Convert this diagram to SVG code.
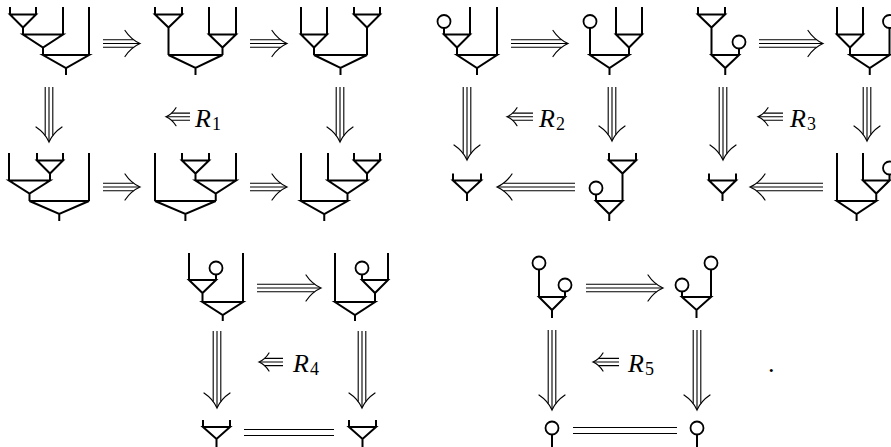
<svg xmlns="http://www.w3.org/2000/svg" width="891" height="447" viewBox="0 0 891 447">
<style>
.w{fill:none;stroke:#000;stroke-width:2;stroke-linejoin:miter;stroke-linecap:butt}
.c{fill:#fff;stroke:#000;stroke-width:1.8}
.a{fill:none;stroke:#000;stroke-width:1.1}
.h{fill:none;stroke:#000;stroke-width:1.2;stroke-linecap:round}
.t{font-family:"Liberation Serif","DejaVu Serif",serif;font-style:italic;font-size:26px;fill:#000}
.s{font-style:normal;font-size:18px}
.p{font-family:"Liberation Serif","DejaVu Serif",serif;font-size:26px;fill:#000}
</style>
<defs>
<path id="hd" class="h" d="M-15,-13 Q-9,-4 0,0 Q-9,4 -15,13"/>
<path id="sh" class="h" d="M-10,-9 Q-6,-2.5 0,0 Q-6,2.5 -10,9"/>
</defs>
<rect width="891" height="447" fill="#fff"/>

<!-- R1 square -->
<g id="n1a"><path class="w" d="M10,7V14.5M36,7V14.5M10,14.5H36L23,27.5ZM23,27.5V34.5M63,7V34.5M23,34.5H63L43,47.5ZM43,47.5V55M89,7V55M43,55H89L66,68ZM66,68V75"/></g>
<g id="n1b"><path class="w" d="M155,7V14.5M182,7V14.5M155,14.5H182L168.5,27.5ZM168.5,27.5V55M209,7V34.5M236,7V34.5M209,34.5H236L222.5,47.5ZM222.5,47.5V55M168.5,55H222.5L195.5,68ZM195.5,68V75"/></g>
<g id="n1c"><path class="w" d="M301,7V34.5M327,7V34.5M301,34.5H327L314,47.5ZM314,47.5V55M354,7V14.5M380,7V14.5M354,14.5H380L367,27.5ZM367,27.5V55M314,55H367L340.5,68ZM340.5,68V75"/></g>
<g id="n1d"><path class="w" d="M9,153V180.5M37,153V160.5M63,153V160.5M37,160.5H63L50,173.5ZM50,173.5V180.5M9,180.5H50L29.5,193.5ZM29.5,193.5V201M89,153V201M29.5,201H89L59.25,214ZM59.25,214V221"/></g>
<g id="n1e"><path class="w" d="M155,153V201M182,153V160.5M209,153V160.5M182,160.5H209L195.5,173.5ZM195.5,173.5V180.5M236,153V180.5M195.5,180.5H236L215.75,193.5ZM215.75,193.5V201M155,201H215.75L185.4,214ZM185.4,214V221"/></g>
<g id="n1f"><path class="w" d="M301,153V201M328,153V180.5M354,153V160.5M380,153V160.5M354,160.5H380L367,173.5ZM367,173.5V180.5M328,180.5H367L347.5,193.5ZM347.5,193.5V201M301,201H347.5L324.25,214ZM324.25,214V221"/></g>

<!-- R2 square -->
<g id="n2a"><path class="w" d="M444,28V34.5M470,7V34.5M444,34.5H470L457,47.5ZM457,47.5V55M497,7V55M457,55H497L477,68ZM477,68V75"/><circle class="c" cx="444" cy="21.5" r="6.5"/></g>
<g id="n2b"><path class="w" d="M590,28V55M616,7V34.5M642,7V34.5M616,34.5H642L629,47.5ZM629,47.5V55M590,55H629L609.5,68ZM609.5,68V75"/><circle class="c" cx="590" cy="21.5" r="6.5"/></g>
<g id="n2c"><path class="w" d="M453,173.5V180.5M481,173.5V180.5M453,180.5H481L467,193.5ZM467,193.5V201"/></g>
<g id="n2d"><path class="w" d="M609,153V160.5M636,153V160.5M609,160.5H636L622.5,173.5ZM622.5,173.5V201M596,194.5V201M596,201H622.5L609.25,214ZM609.25,214V221"/><circle class="c" cx="596" cy="188" r="6.5"/></g>

<!-- R3 square -->
<g id="n3a"><path class="w" d="M698,7V14.5M725,7V14.5M698,14.5H725L711.5,27.5ZM711.5,27.5V55M739,48.5V55M711.5,55H739L725.25,68ZM725.25,68V75"/><circle class="c" cx="739" cy="42" r="6.5"/></g>
<g id="n3b"><path class="w" d="M837,7V34.5M863,7V34.5M837,34.5H863L850,47.5ZM850,47.5V55M889.5,28V55M850,55H889.5L869.75,68ZM869.75,68V75"/><circle class="c" cx="889.5" cy="21.5" r="6.5"/></g>
<g id="n3c"><path class="w" d="M709,173.5V180.5M736,173.5V180.5M709,180.5H736L722.5,193.5ZM722.5,193.5V201"/></g>
<g id="n3d"><path class="w" d="M837,153V201M863,153V180.5M889.5,174.5V180.5M863,180.5H889.5L876.25,193.5ZM876.25,193.5V201M837,201H876.25L856.6,214ZM856.6,214V221"/><circle class="c" cx="889.5" cy="168" r="6.5"/></g>

<!-- R4 square -->
<g id="n4a"><path class="w" d="M189,253V280M216,274.5V280M189,280H216L202.5,293ZM202.5,293V302M243,253V302M202.5,302H243L222.75,315ZM222.75,315V321"/><circle class="c" cx="216" cy="268" r="6.5"/></g>
<g id="n4b"><path class="w" d="M335,253V302M362,274.5V280M388,253V280M362,280H388L375,293ZM375,293V302M335,302H375L355,315ZM355,315V321"/><circle class="c" cx="362" cy="268" r="6.5"/></g>
<g id="n4c"><path class="w" d="M203,420V427M230,420V427M203,427H230L216.5,439ZM216.5,439V448"/></g>
<g id="n4d"><path class="w" d="M349,420V427M376,420V427M349,427H376L362.5,439ZM362.5,439V448"/></g>

<!-- R5 square -->
<g id="n5a"><path class="w" d="M539,269.5V297M565,291.5V297M539,297H565L552,310ZM552,310V318"/><circle class="c" cx="539" cy="263" r="6.5"/><circle class="c" cx="565" cy="285" r="6.5"/></g>
<g id="n5b"><path class="w" d="M682,291.5V297M711,269.5V297M682,297H711L696.5,310ZM696.5,310V318"/><circle class="c" cx="682" cy="285" r="6.5"/><circle class="c" cx="711" cy="263" r="6.5"/></g>
<g id="n5c"><path class="w" d="M552,434.5V448"/><circle class="c" cx="552" cy="428" r="6.5"/></g>
<g id="n5d"><path class="w" d="M697,434.5V448"/><circle class="c" cx="697" cy="428" r="6.5"/></g>

<g id="connectors">
<!-- R1 -->
<path class="a" d="M103,39.7H133.5M103,43.5H139M103,47.3H133.5"/><use href="#hd" transform="translate(140,43.5)"/>
<path class="a" d="M250,39.7H280.5M250,43.5H286M250,47.3H280.5"/><use href="#hd" transform="translate(287,43.5)"/>
<path class="a" d="M103,183.2H133.5M103,187H139M103,190.8H133.5"/><use href="#hd" transform="translate(140,187)"/>
<path class="a" d="M250,183.2H280.5M250,187H286M250,190.8H280.5"/><use href="#hd" transform="translate(287,187)"/>
<path class="a" d="M45.2,87V135.5M49,87V141M52.8,87V135.5"/><use href="#hd" transform="translate(49,142) rotate(90)"/>
<path class="a" d="M336.2,87V135.5M340,87V141M343.8,87V135.5"/><use href="#hd" transform="translate(340,142) rotate(90)"/>
<!-- R2 -->
<path class="a" d="M511,39.7H561.5M511,43.5H567M511,47.3H561.5"/><use href="#hd" transform="translate(568,43.5)"/>
<path class="a" d="M575,183.2H503.5M575,187H498M575,190.8H503.5"/><use href="#hd" transform="translate(497,187) rotate(180)"/>
<path class="a" d="M463.2,87V153.5M467,87V159M470.8,87V153.5"/><use href="#hd" transform="translate(467,160) rotate(90)"/>
<path class="a" d="M608.2,87V134.5M612,87V140M615.8,87V134.5"/><use href="#hd" transform="translate(612,141) rotate(90)"/>
<!-- R3 -->
<path class="a" d="M759,39.7H816.5M759,43.5H822M759,47.3H816.5"/><use href="#hd" transform="translate(823,43.5)"/>
<path class="a" d="M823,183.2H756.5M823,187H751M823,190.8H756.5"/><use href="#hd" transform="translate(750,187) rotate(180)"/>
<path class="a" d="M719.2,87V153.5M723,87V159M726.8,87V153.5"/><use href="#hd" transform="translate(723,160) rotate(90)"/>
<path class="a" d="M863.2,87V134.5M867,87V140M870.8,87V134.5"/><use href="#hd" transform="translate(867,141) rotate(90)"/>
<!-- R4 -->
<path class="a" d="M257,284.2H314.5M257,288H320M257,291.8H314.5"/><use href="#hd" transform="translate(321,288)"/>
<path class="a" d="M213.2,331V401.5M217,331V407M220.8,331V401.5"/><use href="#hd" transform="translate(217,408) rotate(90)"/>
<path class="a" d="M358.2,331V401.5M362,331V407M365.8,331V401.5"/><use href="#hd" transform="translate(362,408) rotate(90)"/>
<path class="a" d="M244,429.5H334M244,435.5H334"/>
<!-- R5 -->
<path class="a" d="M586,284.2H656.5M586,288H662M586,291.8H656.5"/><use href="#hd" transform="translate(663,288)"/>
<path class="a" d="M548.2,330V403.5M552,330V409M555.8,330V403.5"/><use href="#hd" transform="translate(552,410) rotate(90)"/>
<path class="a" d="M693.2,330V403.5M697,330V409M700.8,330V403.5"/><use href="#hd" transform="translate(697,410) rotate(90)"/>
<path class="a" d="M573,427.5H677M573,433.5H677"/>
</g>

<g id="label1"><path class="a" d="M190,113.1H171.6M190,116.7H167M190,120.3H171.6"/><use href="#sh" transform="translate(166,116.7) rotate(180)"/><text class="t" x="195" y="127">R<tspan class="s" dx="1" dy="3">1</tspan></text></g>
<g id="label2"><path class="a" d="M533,113.1H512.6M533,116.7H508M533,120.3H512.6"/><use href="#sh" transform="translate(507,116.7) rotate(180)"/><text class="t" x="539" y="127">R<tspan class="s" dx="1" dy="3">2</tspan></text></g>
<g id="label3"><path class="a" d="M783,113.1H763.6M783,116.7H759M783,120.3H763.6"/><use href="#sh" transform="translate(758,116.7) rotate(180)"/><text class="t" x="790" y="127">R<tspan class="s" dx="1" dy="3">3</tspan></text></g>
<g id="label4"><path class="a" d="M283,358.4H264.6M283,362H260M283,365.6H264.6"/><use href="#sh" transform="translate(259,362) rotate(180)"/><text class="t" x="293" y="372">R<tspan class="s" dx="1" dy="3">4</tspan></text></g>
<g id="label5"><path class="a" d="M619,358.4H598.6M619,362H594M619,365.6H598.6"/><use href="#sh" transform="translate(593,362) rotate(180)"/><text class="t" x="628" y="372">R<tspan class="s" dx="1" dy="3">5</tspan></text></g>
<text class="p" x="768" y="372">.</text>
</svg>
